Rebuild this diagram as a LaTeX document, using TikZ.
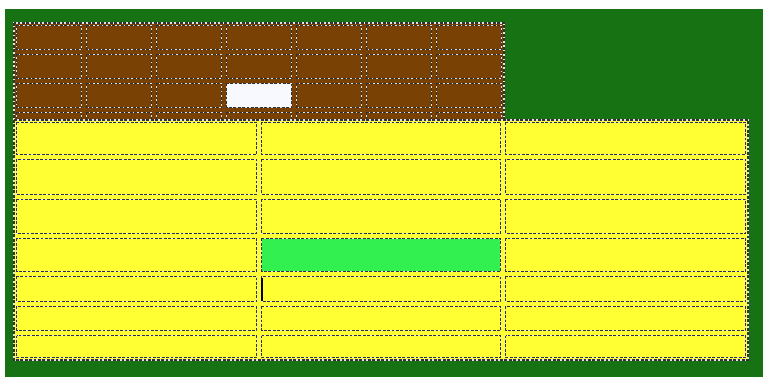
\documentclass[tikz,border=0pt]{standalone}
\definecolor{bgc}{RGB}{22,114,18}
\definecolor{brownc}{RGB}{122,65,4}
\definecolor{yelc}{RGB}{255,255,51}
\definecolor{greenc}{RGB}{50,240,80}
\definecolor{whitec}{RGB}{248,248,255}
\definecolor{dashc}{RGB}{50,50,50}
\tikzset{
  cellline/.style={draw=white!80!gray, line width=1.6pt},
  celldash/.style={draw=dashc, line width=1.6pt, dash pattern=on 2.8pt off 1.6pt},
}
\newcommand\mycell[5]{%
  \fill[#5] (#1+2.5,#2+2.5) rectangle (#3-2.5,#4-2.5);
  \draw[cellline] (#1+2.5,#2+2.5) rectangle (#3-2.5,#4-2.5);
  \draw[celldash] (#1+2.5,#2+2.5) rectangle (#3-2.5,#4-2.5);
}
\begin{document}
\begin{tikzpicture}[x=1pt,y=-1pt]
\useasboundingbox (0,0) rectangle (763,379);
\fill[white] (0,0) rectangle (763,379);
\fill[bgc] (5,9) rectangle (763,377);
% brown table
\fill[brownc] (14,23) rectangle (504,139);
\foreach \c in {0,...,6}{
  \foreach \r in {0,...,3}{
    \pgfmathsetmacro\xa{14+70*\c}
    \pgfmathsetmacro\xb{14+70*(\c+1)}
    \pgfmathsetmacro\ya{23+29*\r}
    \pgfmathsetmacro\yb{23+29*(\r+1)}
    \mycell{\xa}{\ya}{\xb}{\yb}{brownc}
  }
}
\mycell{224}{81}{294}{110}{whitec}
\draw[cellline] (14,23) rectangle (504,139);
\draw[celldash] (14,23) rectangle (504,139);
% yellow table
\fill[yelc] (14,120) rectangle (748,360);
\foreach \xa/\xb in {14/259,259/503,503/748}{
  \foreach \ya/\yb in {120/157,157/197,197/236,236/274,274/304,304/333,333/360}{
    \mycell{\xa}{\ya}{\xb}{\yb}{yelc}
  }
}
\mycell{259}{236}{503}{274}{greenc}
\draw[cellline] (14,120) rectangle (748,360);
\draw[celldash] (14,120) rectangle (748,360);
\draw[black, line width=1.6pt] (262,278) -- (262,301);
\end{tikzpicture}
\end{document}
